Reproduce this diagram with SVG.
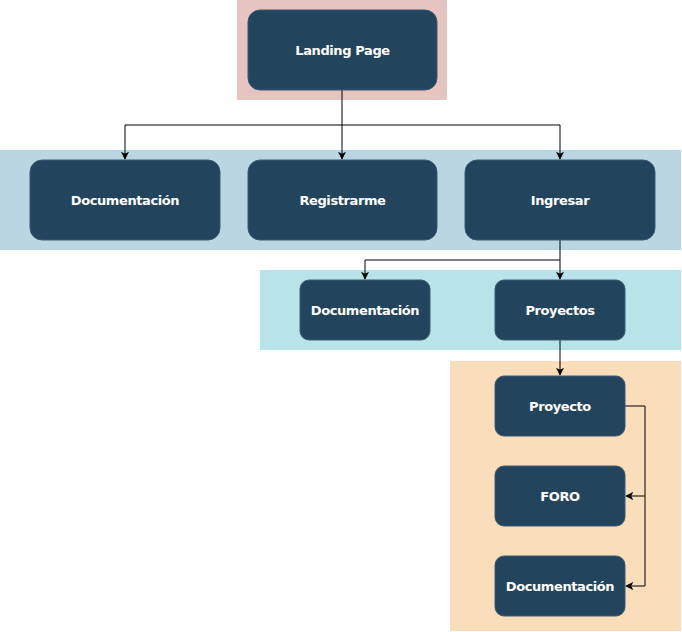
<svg xmlns="http://www.w3.org/2000/svg" width="682" height="632" viewBox="0 0 682 632">
<defs>
<style>
.node rect{fill:#23445D;stroke:#3a5a72;stroke-width:1}
.node text{fill:#ffffff;font-family:"DejaVu Sans",Verdana,sans-serif;font-weight:bold;font-size:13px;text-anchor:middle;dominant-baseline:central;letter-spacing:-0.4px}
.edge{fill:none;stroke:#000;stroke-width:1}
</style>
<marker id="arr" viewBox="0 0 10 10" refX="9" refY="5" markerWidth="8" markerHeight="8" markerUnits="userSpaceOnUse" orient="auto">
<path d="M0,0 L10,5 L0,10 L2.5,5 Z" fill="#000"/>
</marker>
</defs>
<g id="backgrounds">
<rect x="237" y="0" width="210" height="100" fill="#E6C4C0"/>
<rect x="0" y="150" width="681" height="100" fill="#B9D6E2"/>
<rect x="260" y="270" width="421" height="80" fill="#B8E3E8"/>
<rect x="450" y="361" width="231" height="270" fill="#FADDBA"/>
</g>
<g id="connectors">
<path class="edge" d="M342,90 V125 H125 V159" marker-end="url(#arr)"/>
<path class="edge" d="M342,125 V159" marker-end="url(#arr)"/>
<path class="edge" d="M342,125 H560 V159" marker-end="url(#arr)"/>
<path class="edge" d="M560,240 V260 H365 V279" marker-end="url(#arr)"/>
<path class="edge" d="M560,260 V279" marker-end="url(#arr)"/>
<path class="edge" d="M560,340 V375" marker-end="url(#arr)"/>
<path class="edge" d="M625,406 H645 V496 H626" marker-end="url(#arr)"/>
<path class="edge" d="M645,496 V586 H626" marker-end="url(#arr)"/>
</g>
<g id="landing" class="node"><rect x="248" y="10" width="189" height="80" rx="12"/><text x="342.5" y="50">Landing Page</text></g>
<g id="doc1" class="node"><rect x="30" y="160" width="190" height="80" rx="12"/><text x="125" y="200">Documentación</text></g>
<g id="registrarme" class="node"><rect x="248" y="160" width="189" height="80" rx="12"/><text x="342.5" y="200">Registrarme</text></g>
<g id="ingresar" class="node"><rect x="465" y="160" width="190" height="80" rx="12"/><text x="560" y="200">Ingresar</text></g>
<g id="doc2" class="node"><rect x="300" y="280" width="130" height="60" rx="9"/><text x="365" y="310">Documentación</text></g>
<g id="proyectos" class="node"><rect x="495" y="280" width="130" height="60" rx="9"/><text x="560" y="310">Proyectos</text></g>
<g id="proyecto" class="node"><rect x="495" y="376" width="130" height="60" rx="9"/><text x="560" y="406">Proyecto</text></g>
<g id="foro" class="node"><rect x="495" y="466" width="130" height="60" rx="9"/><text x="560" y="496">FORO</text></g>
<g id="doc3" class="node"><rect x="495" y="556" width="130" height="60" rx="9"/><text x="560" y="586">Documentación</text></g>
</svg>
